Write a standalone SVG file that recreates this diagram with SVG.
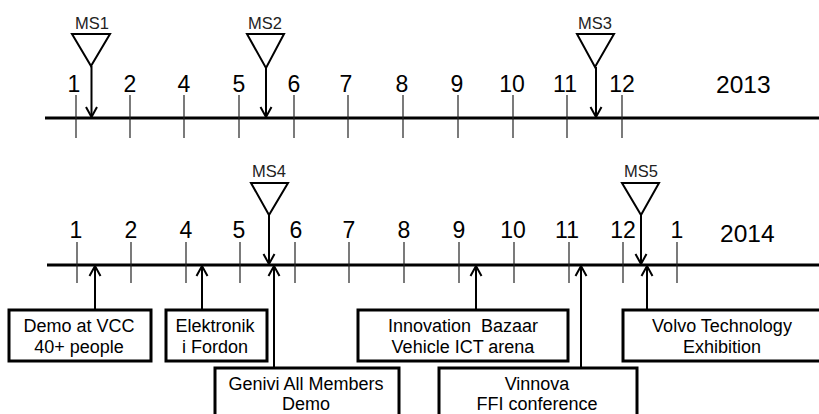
<svg xmlns="http://www.w3.org/2000/svg" width="819" height="414" viewBox="0 0 819 414">
<defs>
<marker id="ah" markerUnits="userSpaceOnUse" markerWidth="14" markerHeight="14" viewBox="-12 -7 14 14" refX="0" refY="0" orient="auto">
<path d="M -10 -5.5 L 0 0 L -10 5.5" fill="none" stroke="#000" stroke-width="2"/>
</marker>
</defs>
<style>
.axis{stroke:#000;stroke-width:3}
.tick{stroke:#222;stroke-width:1.2}
.num{font-family:"Liberation Sans",Arial,sans-serif;font-size:23px;fill:#000;text-anchor:middle}
.year{font-family:"Liberation Sans",Arial,sans-serif;font-size:24.5px;fill:#000}
.ms{font-family:"Liberation Sans",Arial,sans-serif;font-size:16.5px;fill:#222;text-anchor:middle}
.tri{fill:#fff;stroke:#000;stroke-width:2}
.arr{stroke:#000;stroke-width:2;fill:none;marker-end:url(#ah)}
.box{fill:#fff;stroke:#000;stroke-width:3}
.lbl{font-family:"Liberation Sans",Arial,sans-serif;font-size:18px;fill:#000;text-anchor:middle}
</style>
<rect width="819" height="414" fill="#fff"/>
<g id="timeline-2013">
<line class="axis" x1="45" y1="118" x2="819" y2="118"/>
<g>
<line class="tick" x1="76" y1="95" x2="76" y2="138"/>
<line class="tick" x1="130" y1="95" x2="130" y2="138"/>
<line class="tick" x1="184" y1="95" x2="184" y2="138"/>
<line class="tick" x1="239" y1="95" x2="239" y2="138"/>
<line class="tick" x1="294" y1="95" x2="294" y2="138"/>
<line class="tick" x1="348" y1="95" x2="348" y2="138"/>
<line class="tick" x1="403" y1="95" x2="403" y2="138"/>
<line class="tick" x1="458" y1="95" x2="458" y2="138"/>
<line class="tick" x1="513" y1="95" x2="513" y2="138"/>
<line class="tick" x1="567" y1="95" x2="567" y2="138"/>
<line class="tick" x1="622" y1="95" x2="622" y2="138"/>
</g>
<text class="num" x="74" y="92">1</text>
<text class="num" x="130" y="92">2</text>
<text class="num" x="184" y="92">4</text>
<text class="num" x="239" y="92">5</text>
<text class="num" x="294" y="92">6</text>
<text class="num" x="346" y="92">7</text>
<text class="num" x="402" y="92">8</text>
<text class="num" x="457" y="92">9</text>
<text class="num" x="512" y="92">10</text>
<text class="num" x="565" y="92">11</text>
<text class="num" x="622" y="92">12</text>
<text class="year" x="716" y="93">2013</text>
</g>
<g id="timeline-2014">
<line class="axis" x1="47" y1="265" x2="819" y2="265"/>
<g>
<line class="tick" x1="77" y1="242" x2="77" y2="283"/>
<line class="tick" x1="131" y1="242" x2="131" y2="283"/>
<line class="tick" x1="186" y1="242" x2="186" y2="283"/>
<line class="tick" x1="240" y1="242" x2="240" y2="283"/>
<line class="tick" x1="295" y1="242" x2="295" y2="283"/>
<line class="tick" x1="349" y1="242" x2="349" y2="283"/>
<line class="tick" x1="404" y1="242" x2="404" y2="283"/>
<line class="tick" x1="459" y1="242" x2="459" y2="283"/>
<line class="tick" x1="514" y1="242" x2="514" y2="283"/>
<line class="tick" x1="569" y1="242" x2="569" y2="283"/>
<line class="tick" x1="623" y1="242" x2="623" y2="283"/>
<line class="tick" x1="677" y1="242" x2="677" y2="283"/>
</g>
<text class="num" x="76" y="238">1</text>
<text class="num" x="131" y="238">2</text>
<text class="num" x="186" y="238">4</text>
<text class="num" x="239" y="238">5</text>
<text class="num" x="296" y="238">6</text>
<text class="num" x="349" y="238">7</text>
<text class="num" x="404" y="238">8</text>
<text class="num" x="459" y="238">9</text>
<text class="num" x="513" y="238">10</text>
<text class="num" x="567" y="238">11</text>
<text class="num" x="623" y="238">12</text>
<text class="num" x="677" y="238">1</text>
<text class="year" x="720" y="242">2014</text>
</g>
<g id="MS1">
<text class="ms" x="92" y="29">MS1</text>
<path class="tri" d="M72 34 L110 34 L91 66 Z"/>
</g>
<g id="MS2">
<text class="ms" x="265" y="29">MS2</text>
<path class="tri" d="M247 34 L284 34 L266 68 Z"/>
</g>
<g id="MS3">
<text class="ms" x="595" y="29">MS3</text>
<path class="tri" d="M577 34 L614 34 L595 67 Z"/>
</g>
<g id="MS4">
<text class="ms" x="269" y="177">MS4</text>
<path class="tri" d="M251 183 L288 183 L269 215 Z"/>
</g>
<g id="MS5">
<text class="ms" x="641" y="177">MS5</text>
<path class="tri" d="M622 183 L659 183 L641 215 Z"/>
</g>
<g id="demo-vcc">
<rect class="box" x="9" y="310" width="142" height="51"/>
<text class="lbl" x="79" y="332">Demo at VCC</text>
<text class="lbl" x="79" y="353">40+ people</text>
</g>
<g id="elektronik">
<rect class="box" x="166" y="310" width="101" height="51"/>
<text class="lbl" x="215" y="332">Elektronik</text>
<text class="lbl" x="215" y="353">i Fordon</text>
</g>
<g id="genivi">
<rect class="box" x="215" y="368" width="184" height="60"/>
<text class="lbl" x="306" y="390">Genivi All Members</text>
<text class="lbl" x="306" y="410">Demo</text>
</g>
<g id="innovation">
<rect class="box" x="358" y="310" width="210" height="51"/>
<text class="lbl" x="463" y="332" xml:space="preserve">Innovation  Bazaar</text>
<text class="lbl" x="463" y="353">Vehicle ICT arena</text>
</g>
<g id="vinnova">
<rect class="box" x="439" y="368" width="198" height="60"/>
<text class="lbl" x="537" y="390">Vinnova</text>
<text class="lbl" x="537" y="410">FFI conference</text>
</g>
<g id="volvo">
<rect class="box" x="623" y="310" width="200" height="51"/>
<text class="lbl" x="722" y="332">Volvo Technology</text>
<text class="lbl" x="722" y="353">Exhibition</text>
</g>
<g id="connectors">
<line class="arr" x1="91.5" y1="66" x2="91.5" y2="117"/>
<line class="arr" x1="266" y1="68" x2="266" y2="117"/>
<line class="arr" x1="596" y1="67" x2="596" y2="117"/>
<line class="arr" x1="269" y1="215" x2="269" y2="264"/>
<line class="arr" x1="641" y1="215" x2="641" y2="264"/>
<line class="arr" x1="95" y1="309" x2="95" y2="266"/>
<line class="arr" x1="202" y1="309" x2="202" y2="266"/>
<line class="arr" x1="274" y1="367" x2="274" y2="266"/>
<line class="arr" x1="476" y1="309" x2="476" y2="266"/>
<line class="arr" x1="581" y1="367" x2="581" y2="266"/>
<line class="arr" x1="647" y1="309" x2="647" y2="266"/>
</g>
</svg>
